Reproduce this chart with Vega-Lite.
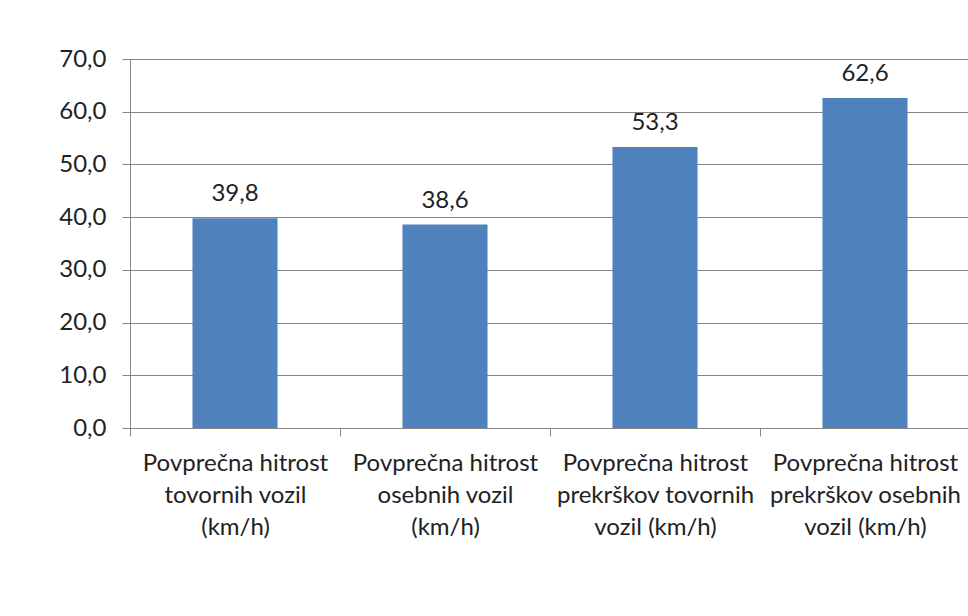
{
  "$schema": "https://vega.github.io/schema/vega-lite/v6.json",
  "width": 840,
  "height": 369,
  "autosize": "none",
  "padding": {"left": 130, "top": 59, "right": 0, "bottom": 188},
  "background": "white",
  "config": {
    "locale": {"number": {"decimal": ",", "thousands": ".", "grouping": [3], "currency": ["", " €"]}},
    "view": {"stroke": null},
    "font": "Lato"
  },
  "data": {
    "values": [
      {"kategorija": "Povprečna hitrost|tovornih vozil|(km/h)", "hitrost": 39.8},
      {"kategorija": "Povprečna hitrost|osebnih vozil|(km/h)", "hitrost": 38.6},
      {"kategorija": "Povprečna hitrost|prekrškov tovornih|vozil (km/h)", "hitrost": 53.3},
      {"kategorija": "Povprečna hitrost|prekrškov osebnih|vozil (km/h)", "hitrost": 62.6}
    ]
  },
  "encoding": {
    "x": {
      "field": "kategorija",
      "type": "nominal",
      "sort": null,
      "scale": {"paddingInner": 0, "paddingOuter": 0},
      "axis": {
        "title": null,
        "labelAngle": 0,
        "labelExpr": "datum.value ? split(datum.value, '|') : ''",
        "labelFontSize": 24,
        "labelLineHeight": 32,
        "labelColor": "#222222",
        "labelPadding": 15,
        "labelLimit": 0,
        "tickBand": "extent",
        "tickSize": 8,
        "tickColor": "#868686",
        "domainColor": "#868686",
        "grid": false
      }
    },
    "y": {
      "field": "hitrost",
      "type": "quantitative",
      "scale": {"domain": [0, 70]},
      "axis": {
        "title": null,
        "values": [0, 10, 20, 30, 40, 50, 60, 70],
        "format": ".1f",
        "labelFontSize": 24,
        "labelColor": "#222222",
        "labelPadding": 16,
        "tickSize": 8,
        "tickColor": "#868686",
        "domainColor": "#868686",
        "gridColor": "#868686",
        "grid": true
      }
    }
  },
  "layer": [
    {"mark": {"type": "bar", "color": "#4F81BD", "width": {"band": 0.405}}},
    {
      "mark": {"type": "text", "baseline": "bottom", "dy": -12, "fontSize": 24, "color": "#222222"},
      "encoding": {"text": {"field": "hitrost", "type": "quantitative", "format": ".1f"}}
    }
  ]
}
